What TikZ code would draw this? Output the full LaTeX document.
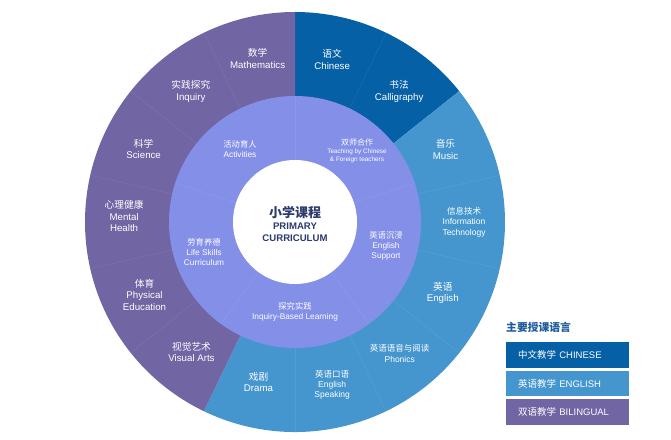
\documentclass[tikz,border=0pt]{standalone}
\usepackage{fontspec}
\setmainfont{Liberation Sans}
\newfontfamily\cjk{Noto Sans CJK SC}
\definecolor{dblue}{HTML}{0660A6}
\definecolor{lblue}{HTML}{4596CE}
\definecolor{opurple}{HTML}{7165A3}
\definecolor{ipurple}{HTML}{848FE8}
\definecolor{navy}{HTML}{2C3B6E}
\definecolor{headblue}{HTML}{1D5B9C}
\newcommand{\olbl}[2]{{\cjk #1}\\#2}
\newcommand{\olblt}[3]{{\cjk #1}\\#2\\#3}
\begin{document}
\begin{tikzpicture}[x=1pt,y=1pt,
  outerlbl/.style={text=white, align=center, font=\fontsize{9.7}{11.5}\selectfont, inner sep=0pt},
  innerlbl/.style={text=white, align=center, font=\fontsize{8.3}{10.2}\selectfont, inner sep=0pt},
  divline/.style={white, opacity=0.08, line width=0.6pt},
  legbox/.style={anchor=north west, text width=99pt, inner xsep=12pt, inner ysep=0pt,
    minimum height=25.5pt, align=left, text=white, font=\fontsize{9.5}{11}\selectfont},
]
\useasboundingbox (0,0) rectangle (671,439);
\coordinate (C) at (295,217);
% outer ring sectors
\fill[dblue] (C) -- +(38.57:210) arc[start angle=38.57, end angle=90, radius=210] -- cycle;
\fill[lblue] (C) -- +(-115.71:210) arc[start angle=-115.71, end angle=38.57, radius=210] -- cycle;
\fill[opurple] (C) -- +(90:210) arc[start angle=90, end angle=244.29, radius=210] -- cycle;
\foreach \a in {64.29,12.86,-12.86,-38.57,-64.29,-90,115.71,141.43,167.14,192.86,218.57}
  \draw[divline] ([shift={(\a:126)}]C) -- ([shift={(\a:210)}]C);
% inner ring
\fill[ipurple] (C) circle[radius=126];
\foreach \a in {18,90,162,234,306}
  \draw[divline] ([shift={(\a:62)}]C) -- ([shift={(\a:126)}]C);
\fill[white] (C) circle[radius=62];
% centre
\node[text=navy, align=center, inner sep=0pt, font=\bfseries\fontsize{9.6}{12}\selectfont] (title) at (295,215)
  {{\cjk\bfseries\fontsize{13}{15}\selectfont 小学课程}\\PRIMARY\\CURRICULUM};
% outer labels
\node[outerlbl] (chinese) at ([shift={(77.14:167)}]C) {\olbl{语文}{Chinese}};
\node[outerlbl] (callig) at ([shift={(51.43:167)}]C) {\olbl{书法}{Calligraphy}};
\node[outerlbl] (music) at ([shift={(25.71:167)}]C) {\olbl{音乐}{Music}};
\node[outerlbl, font=\fontsize{8.5}{10.5}\selectfont] (it) at ([shift={(0:169)}]C) {\olblt{信息技术}{Information}{Technology}};
\node[outerlbl] (english) at ([shift={(-25.71:164)}]C) {\olbl{英语}{English}};
\node[outerlbl, font=\fontsize{8.5}{10.5}\selectfont] (phonics) at ([shift={(-51.43:168)}]C) {\olbl{英语语音与阅读}{Phonics}};
\node[outerlbl, font=\fontsize{8.5}{10}\selectfont] (speaking) at ([shift={(-77.14:167)}]C) {\olblt{英语口语}{English}{Speaking}};
\node[outerlbl] (drama) at ([shift={(-102.86:164)}]C) {\olbl{戏剧}{Drama}};
\node[outerlbl] (visual) at ([shift={(-128.57:166)}]C) {\olbl{视觉艺术}{Visual Arts}};
\node[outerlbl] (pe) at ([shift={(-154.29:167)}]C) {\olblt{体育}{Physical}{Education}};
\node[outerlbl] (mental) at ([shift={(178:171)}]C) {\olblt{心理健康}{Mental}{Health}};
\node[outerlbl] (science) at ([shift={(154.29:168)}]C) {\olbl{科学}{Science}};
\node[outerlbl] (inquiry) at ([shift={(128.57:167)}]C) {\olbl{实践探究}{Inquiry}};
\node[outerlbl] (math) at ([shift={(102.86:168)}]C) {\olbl{数学}{Mathematics}};
% inner labels
\node[innerlbl] (activities) at (240,290) {\olbl{活动育人}{Activities}};
\node[innerlbl, font=\fontsize{6.4}{8}\selectfont] (dual) at (357,288)
  {{\cjk\fontsize{8}{10}\selectfont 双师合作}\\Teaching by Chinese\\\&\ Foreign teachers};
\node[innerlbl] (support) at (386,193) {\olblt{英语沉浸}{English}{Support}};
\node[innerlbl] (lifeskills) at (204,187) {\olblt{劳育养德}{Life Skills}{Curriculum}};
\node[innerlbl] (ibl) at (295,127) {\olbl{探究实践}{Inquiry-Based Learning}};
% legend
\node[anchor=west, inner sep=0pt, text=headblue, font=\cjk\bfseries\fontsize{10.8}{12}\selectfont] (legtitle) at (506,112) {主要授课语言};
\node[legbox, fill=dblue] (legcn) at (506,97) {{\cjk 中文教学} CHINESE};
\node[legbox, fill=lblue] (legen) at (506,68.5) {{\cjk 英语教学} ENGLISH};
\node[legbox, fill=opurple] (legbi) at (506,40) {{\cjk 双语教学} BILINGUAL};
\end{tikzpicture}
\end{document}
